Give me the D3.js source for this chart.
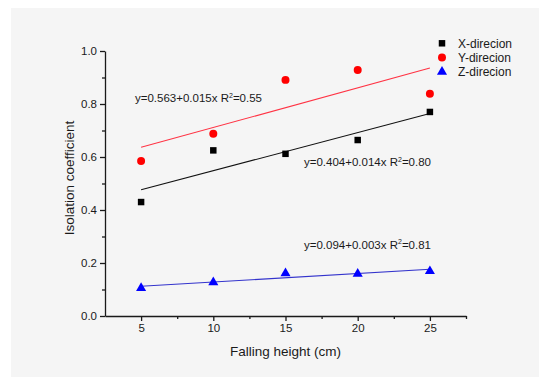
<!DOCTYPE html>
<html>
<head>
<meta charset="utf-8">
<script src="https://cdn.jsdelivr.net/npm/d3@7"></script>
<style>
  body { margin: 0; background: #fff; }
  svg { display: block; font-family: "Liberation Sans", Arial, sans-serif; }
</style>
</head>
<body>
<div id="chart"></div>
<script>
// Data
const heights = [5, 10, 15, 20, 25];
const xDir = [0.430, 0.625, 0.612, 0.664, 0.770];
const yDir = [0.585, 0.688, 0.891, 0.928, 0.839];
const zDir = [0.105, 0.127, 0.161, 0.159, 0.169];
const seriesNames = ['X-direcion', 'Y-direcion', 'Z-direcion'];
const fitLabels = [
  ['y=0.404+0.014x R', '=0.80'],
  ['y=0.563+0.015x R', '=0.55'],
  ['y=0.094+0.003x R', '=0.81']
];
const xTicks = [5, 10, 15, 20, 25];
const yTicks = [0.0, 0.2, 0.4, 0.6, 0.8, 1.0];

const W = 550, H = 386;
const margin = { top: 51, right: 84, bottom: 70, left: 105 };

const svg = d3.select('#chart').append('svg').attr('width', W).attr('height', H);

// grey panel behind everything
svg.append('rect')
  .attr('x', 11).attr('y', 8)
  .attr('width', 528).attr('height', 369)
  .attr('fill', '#f5f5f5');

const x = d3.scaleLinear().domain([2.5, 27.5]).range([margin.left, W - margin.right]);
const y = d3.scaleLinear().domain([0, 1]).range([H - margin.bottom, margin.top]);

const ink = '#1a1a1a';

// Minor ticks
svg.append('g')
  .attr('transform', `translate(0,${y(0)})`)
  .call(d3.axisBottom(x).tickValues([7.5, 12.5, 17.5, 22.5, 27.5]).tickSize(3).tickFormat(''))
  .call(g => g.select('.domain').remove());
svg.append('g')
  .attr('transform', `translate(${x(2.5)},0)`)
  .call(d3.axisLeft(y).tickValues([0.1, 0.3, 0.5, 0.7, 0.9]).tickSize(3).tickFormat(''))
  .call(g => g.select('.domain').remove());

// Major axes
svg.append('g')
  .attr('transform', `translate(0,${y(0)})`)
  .call(d3.axisBottom(x).tickValues(xTicks).tickSize(5).tickSizeOuter(0).tickPadding(3));
svg.append('g')
  .attr('transform', `translate(${x(2.5)},0)`)
  .call(d3.axisLeft(y).tickValues(yTicks).tickSize(5).tickSizeOuter(0).tickPadding(3).tickFormat(d3.format('.1f')));

svg.selectAll('.domain, .tick line').attr('stroke', ink).attr('stroke-width', 1.3);
svg.selectAll('.tick text').attr('fill', ink).attr('font-size', '11.5px')
  .attr('font-family', '"Liberation Sans", Arial, sans-serif');

// Axis titles
svg.append('text')
  .attr('x', (x(2.5) + x(27.5)) / 2)
  .attr('y', 356)
  .attr('text-anchor', 'middle')
  .attr('fill', ink)
  .attr('font-size', '13.5px')
  .text('Falling height (cm)');

svg.append('text')
  .attr('transform', `translate(74,178) rotate(-90)`)
  .attr('text-anchor', 'middle')
  .attr('fill', ink)
  .attr('font-size', '13.5px')
  .text('Isolation coefficient');

// Least squares fit from data
function fit(vals) {
  const mx = d3.mean(heights), my = d3.mean(vals);
  let num = 0, den = 0;
  heights.forEach((h, i) => { num += (h - mx) * (vals[i] - my); den += (h - mx) * (h - mx); });
  const b = num / den;
  return { a: my - b * mx, b };
}

const series = [
  { vals: xDir, color: '#000000', line: '#111111', symbol: d3.symbolSquare, size: 42 },
  { vals: yDir, color: '#ff0000', line: '#ff3344', symbol: d3.symbolCircle, size: 50 },
  { vals: zDir, color: '#0000ff', line: '#3333cc', symbol: d3.symbolTriangle, size: 44 }
];

const line = d3.line().x(d => x(d[0])).y(d => y(d[1]));

series.forEach(s => {
  const f = fit(s.vals);
  svg.append('path')
    .datum([heights[0], heights[heights.length - 1]].map(h => [h, f.a + f.b * h]))
    .attr('d', line)
    .attr('fill', 'none')
    .attr('stroke', s.line)
    .attr('stroke-width', 1.1);
});

series.forEach(s => {
  svg.append('g').selectAll('path')
    .data(heights.map((h, i) => [h, s.vals[i]]))
    .enter().append('path')
    .attr('transform', d => `translate(${x(d[0])},${y(d[1])})`)
    .attr('d', d3.symbol().type(s.symbol).size(s.size))
    .attr('fill', s.color);
});

// Fit equation labels
const labelPos = [[304, 166], [135, 102], [304, 248.5]];
fitLabels.forEach((t, i) => {
  const txt = svg.append('text')
    .attr('x', labelPos[i][0]).attr('y', labelPos[i][1])
    .attr('fill', ink).attr('font-size', '11.5px');
  txt.append('tspan').text(t[0]);
  txt.append('tspan').attr('dy', -4.5).attr('font-size', '7px').text('2');
  txt.append('tspan').attr('dy', 4.5).text(t[1]);
});

// Legend
const legend = svg.append('g').attr('transform', 'translate(442,43.3)');
series.forEach((s, i) => {
  const row = legend.append('g').attr('transform', `translate(0,${i * 14.3})`);
  row.append('path')
    .attr('d', d3.symbol().type(s.symbol).size(s.size))
    .attr('fill', s.color);
  row.append('text')
    .attr('x', 16).attr('y', 4.2)
    .attr('fill', ink).attr('font-size', '12px')
    .text(seriesNames[i]);
});
</script>
</body>
</html>
